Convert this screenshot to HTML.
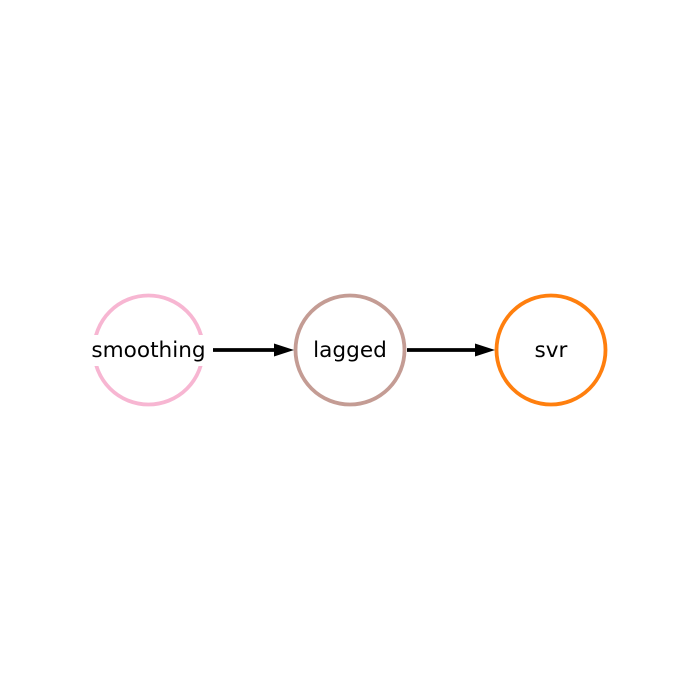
<!DOCTYPE html>
<html><head><style>
html,body{margin:0;padding:0;background:#fff;}
svg{display:block;}
text{font-family:"DejaVu Sans","Liberation Sans",sans-serif;font-size:21.6px;fill:#000;}
</style></head><body>
<svg width="700" height="700" viewBox="0 0 700 700" xmlns="http://www.w3.org/2000/svg">
<rect width="700" height="700" fill="#fff"/>
<circle cx="148.5" cy="350" r="54.5" fill="#fff" stroke="#f7b6d2" stroke-width="3.8"/>
<circle cx="350" cy="350" r="54.5" fill="#fff" stroke="#c49c94" stroke-width="3.8"/>
<circle cx="551" cy="350" r="54.5" fill="#fff" stroke="#ff7f0e" stroke-width="3.8"/>
<rect x="87" y="335" width="123" height="31" fill="#fff"/>
<line x1="213" y1="350" x2="277" y2="350" stroke="#000" stroke-width="3.8"/>
<polygon points="274,343.5 294,350 274,356.5" fill="#000"/>
<line x1="407" y1="350" x2="478" y2="350" stroke="#000" stroke-width="3.8"/>
<polygon points="475,343.5 495,350 475,356.5" fill="#000"/>
<text x="148.5" y="357" text-anchor="middle">smoothing</text>
<text x="350" y="357" text-anchor="middle">lagged</text>
<text x="551" y="357" text-anchor="middle">svr</text>
</svg>
</body></html>
